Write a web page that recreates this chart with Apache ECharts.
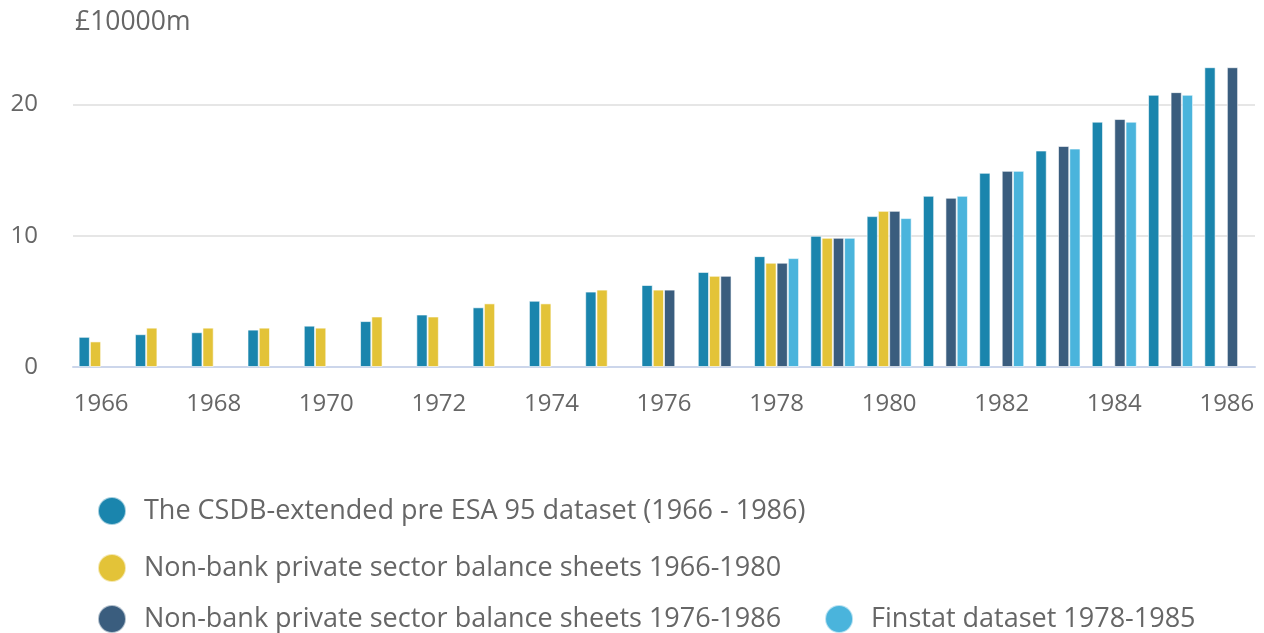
<!DOCTYPE html>
<html>
<head>
<meta charset="utf-8">
<script src="https://cdn.jsdelivr.net/npm/echarts@6/dist/echarts.min.js"></script>
<style>
    html, body { margin: 0; padding: 0; background: #fff; }
    #chart { width: 1264px; height: 633px; }
</style>
</head>
<body>
<div id="chart"></div>
<script>
// 数据
var years = ['1966', '1967', '1968', '1969', '1970', '1971', '1972', '1973', '1974', '1975', '1976',
    '1977', '1978', '1979', '1980', '1981', '1982', '1983', '1984', '1985', '1986'];

var csdbExtended = [2.3, 2.5, 2.65, 2.85, 3.15, 3.5, 4.0, 4.55, 5.05, 5.75, 6.25,
    7.25, 8.45, 10.0, 11.5, 13.05, 14.8, 16.5, 18.7, 20.75, 22.85];

var nbpsEarly = [1.95, 3.0, 3.0, 3.0, 3.0, 3.85, 3.85, 4.85, 4.85, 5.9, 5.9,
    6.95, 7.95, 9.85, 11.9, null, null, null, null, null, null];

var nbpsLate = [null, null, null, null, null, null, null, null, null, null, 5.9,
    6.95, 7.95, 9.85, 11.9, 12.9, 14.95, 16.85, 18.9, 20.95, 22.85];

var finstat = [null, null, null, null, null, null, null, null, null, null, null,
    null, 8.3, 9.85, 11.35, 13.05, 14.95, 16.65, 18.7, 20.75, null];

var seriesNames = [
    'The CSDB-extended pre ESA 95 dataset (1966 - 1986)',
    'Non-bank private sector balance sheets 1966-1980',
    'Non-bank private sector balance sheets 1976-1986',
    'Finstat dataset 1978-1985'
];
var seriesColors = ['#1a85ad', '#e3c338', '#3a5d7e', '#4ab4dc'];

var myChart = echarts.init(document.getElementById('chart'));

var fontFamily = '"Open Sans", sans-serif';
var legendText = {
    fontFamily: fontFamily,
    fontSize: 27,
    lineHeight: 28,
    color: '#666'
};

function barSeries(i, data) {
    return {
        name: seriesNames[i],
        type: 'bar',
        barGap: 0,
        barCategoryGap: '20%',
        data: data,
        itemStyle: {
            color: seriesColors[i],
            borderColor: 'rgba(255,255,255,0.6)',
            borderWidth: 1
        }
    };
}

var option = {
    animation: false,
    color: seriesColors,
    title: {
        text: '£10000m',
        left: 70,
        top: 4,
        textStyle: {
            fontFamily: fontFamily,
            fontSize: 26.5,
            fontWeight: 'normal',
            color: '#666'
        }
    },
    legend: [{
        orient: 'vertical',
        left: 92,
        top: 491,
        icon: 'circle',
        itemWidth: 54,
        itemHeight: 28,
        itemGap: 27,
        data: [seriesNames[0], seriesNames[1]],
        textStyle: legendText
    }, {
        orient: 'horizontal',
        left: 92,
        top: 599,
        icon: 'circle',
        itemWidth: 54,
        itemHeight: 28,
        itemGap: 43,
        data: [seriesNames[2], seriesNames[3]],
        textStyle: legendText
    }],
    grid: {
        left: 73,
        right: 9,
        top: 39,
        bottom: 266
    },
    xAxis: {
        type: 'category',
        data: years,
        boundaryGap: true,
        axisLine: { lineStyle: { color: '#ccd6eb', width: 2 } },
        axisTick: {
            alignWithLabel: true,
            interval: 1,
            length: 21,
            lineStyle: { color: '#ccd6eb', width: 2 }
        },
        axisLabel: {
            interval: 1,
            margin: 25,
            fontFamily: fontFamily,
            fontSize: 24,
            color: '#666'
        }
    },
    yAxis: {
        type: 'value',
        min: 0,
        max: 25,
        interval: 10,
        axisLine: { show: false },
        axisTick: { show: false },
        axisLabel: {
            showMaxLabel: false,
            margin: 35,
            fontFamily: fontFamily,
            fontSize: 24,
            color: '#666'
        },
        splitLine: {
            lineStyle: {
                color: ['#e6e6e6', '#e6e6e6', '#e6e6e6', 'rgba(0,0,0,0)'],
                width: 2
            }
        }
    },
    series: [
        barSeries(0, csdbExtended),
        barSeries(1, nbpsEarly),
        barSeries(2, nbpsLate),
        barSeries(3, finstat)
    ]
};

myChart.setOption(option);
</script>
</body>
</html>
